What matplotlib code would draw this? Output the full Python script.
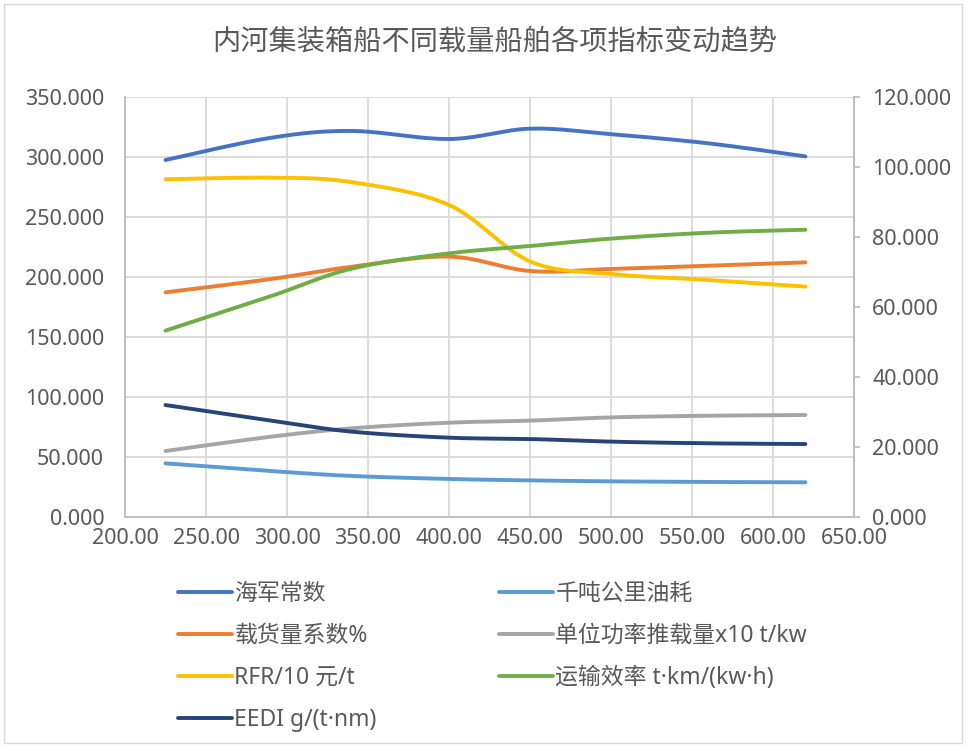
import numpy as np
import matplotlib as mpl
mpl.use("Agg")
from matplotlib import pyplot as plt
from matplotlib.patches import Rectangle
from matplotlib.ticker import FormatStrFormatter, MultipleLocator

# Latin glyphs (incl. the middle dot) from Noto Sans, CJK from the SC family
plt.rcParams["font.family"] = ["Noto Sans", "Noto Sans CJK SC", "DejaVu Sans"]

# Ship load (t) at each computed design point
load = [225, 290, 340, 400, 450, 500, 560, 620]

navy_const = [297.5, 316.0, 321.7, 315.0, 323.6, 319.0, 311.4, 300.5]
fuel_per_kt_km = [44.7, 38.3, 34.2, 31.7, 30.5, 29.7, 29.2, 28.9]
cargo_coef = [187.2, 198.3, 208.6, 217.0, 205.0, 206.7, 209.4, 212.2]
load_per_kw = [55.0, 66.9, 73.9, 78.6, 80.3, 83.0, 84.4, 85.0]
rfr = [281.4, 282.8, 279.0, 260.0, 213.0, 202.5, 197.5, 192.0]
transport_eff = [155.3, 184.0, 207.0, 219.7, 225.8, 232.0, 236.9, 239.4]
eedi = [93.3, 80.3, 71.1, 66.1, 65.0, 62.8, 61.4, 60.8]

series = [
    ("海军常数", navy_const, "#4472C4"),
    ("千吨公里油耗", fuel_per_kt_km, "#5B9BD5"),
    ("载货量系数%", cargo_coef, "#ED7D31"),
    ("单位功率推载量x10 t/kw", load_per_kw, "#A5A5A5"),
    ("RFR/10 元/t", rfr, "#FFC000"),
    ("运输效率 t·km/(kw·h)", transport_eff, "#70AD47"),
    ("EEDI g/(t·nm)", eedi, "#264478"),
]

TEXT = "#595959"
GRID = "#D9D9D9"


def smooth(xs, ys, n=30):
    # uniform Catmull-Rom through the points, like a spreadsheet "smoothed line"
    p = np.column_stack([xs, ys]).astype(float)
    p = np.vstack([p[0], p, p[-1]])
    out = []
    t = np.linspace(0, 1, n, endpoint=False)[:, None]
    for i in range(1, len(p) - 2):
        p0, p1, p2, p3 = p[i - 1], p[i], p[i + 1], p[i + 2]
        seg = 0.5 * ((2 * p1) + (-p0 + p2) * t
                     + (2 * p0 - 5 * p1 + 4 * p2 - p3) * t ** 2
                     + (-p0 + 3 * p1 - 3 * p2 + p3) * t ** 3)
        out.append(seg)
    out.append(p[-2][None, :])
    out = np.vstack(out)
    return out[:, 0], out[:, 1]


fig = plt.figure(figsize=(9.66, 7.46), dpi=100)
fig.add_artist(Rectangle((0.004, 0.004), 0.992, 0.991, transform=fig.transFigure,
                         fill=False, edgecolor="#D9D9D9", linewidth=1))

ax = fig.add_axes((125 / 966, 1 - 517 / 746, 729 / 966, 420 / 746))
ax2 = ax.twinx()

handles = {}
for name, vals, color in series:
    sx, sy = smooth(load, vals)
    h, = ax.plot(sx, sy, color=color, linewidth=2.8, solid_capstyle="round", label=name)
    handles[name] = h

ax.set_xlim(200, 650)
ax.set_ylim(0, 350)
ax2.set_ylim(0, 120)
ax.xaxis.set_major_locator(MultipleLocator(50))
ax.yaxis.set_major_locator(MultipleLocator(50))
ax2.yaxis.set_major_locator(MultipleLocator(20))
ax.xaxis.set_major_formatter(FormatStrFormatter("%.2f"))
ax.yaxis.set_major_formatter(FormatStrFormatter("%.3f"))
ax2.yaxis.set_major_formatter(FormatStrFormatter("%.3f"))

ax.grid(True, color=GRID, linewidth=1.3)
ax.set_axisbelow(True)
for a in (ax, ax2):
    for s in a.spines.values():
        s.set_color("#BFBFBF")
        s.set_linewidth(1.3)
    a.spines["top"].set_visible(False)
ax.tick_params(axis="y", length=0, labelsize=15.5, labelcolor=TEXT, pad=15)
ax.tick_params(axis="x", length=0, labelsize=15.5, labelcolor=TEXT, pad=8)
ax2.tick_params(axis="y", length=4, width=1.3, color="#BFBFBF", labelsize=15.5,
                labelcolor=TEXT, pad=9)

fig.text(0.512, 0.944, "内河集装箱船不同载量船舶各项指标变动趋势", ha="center", va="center",
         fontsize=20.3, color=TEXT)

# legend filled column-first: left column then right column
order = ["海军常数", "载货量系数%", "RFR/10 元/t", "EEDI g/(t·nm)",
         "千吨公里油耗", "单位功率推载量x10 t/kw", "运输效率 t·km/(kw·h)"]
leg = fig.legend([handles[k] for k in order], order, ncol=2, loc="upper left",
                 bbox_to_anchor=(0.175, 0.232), frameon=False, fontsize=16.5,
                 handlelength=2.35, handletextpad=0.1, columnspacing=5.35,
                 labelspacing=0.79, borderaxespad=0)
for t in leg.get_texts():
    t.set_color(TEXT)

fig.savefig("out.png", dpi=100)
